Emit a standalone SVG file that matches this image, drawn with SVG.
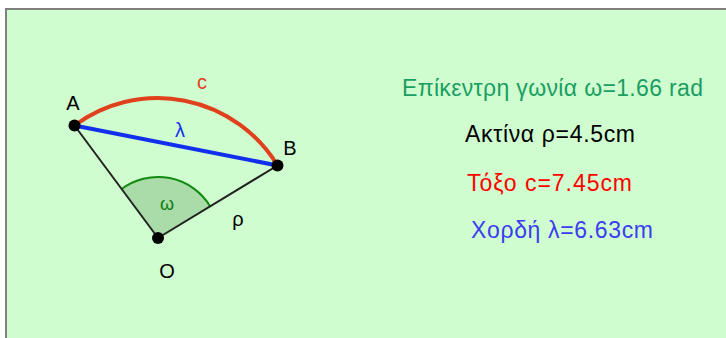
<svg xmlns="http://www.w3.org/2000/svg" width="726" height="338" viewBox="0 0 726 338">
<style>
text{font-family:"Liberation Sans",Arial,sans-serif}
.lbl{font-size:20px;text-anchor:middle;fill:#000}
.info{font-size:23px}
.pt{fill:#000}
</style>
<rect x="0" y="0" width="726" height="338" fill="#ffffff"/>
<rect x="5" y="8" width="721" height="330" fill="#808080"/>
<rect x="7" y="10" width="719" height="328" fill="#cffdcf"/>
<g id="connectors">
<path id="sector" d="M158 238 L121.6 189 A61 61 0 0 1 210.2 206.4 Z" fill="#a9dca9" stroke="none"/>
<path d="M121.6 189 A61 61 0 0 1 210.2 206.4" fill="none" stroke="#108a10" stroke-width="2"/>
<line x1="158" y1="238" x2="74.5" y2="125.5" stroke="#222" stroke-width="2"/>
<line x1="158" y1="238" x2="277.5" y2="165.5" stroke="#222" stroke-width="2"/>
<path d="M74.5 125.5 A140 140 0 0 1 277.5 165.5" fill="none" stroke="#e0401c" stroke-width="4"/>
<line x1="74.5" y1="125.5" x2="277.5" y2="165.5" stroke="#1030ee" stroke-width="4"/>
</g>
<g id="A"><circle class="pt" cx="74.5" cy="125.5" r="6"/><text class="lbl" x="73" y="110">A</text></g>
<g id="B"><circle class="pt" cx="277.5" cy="165.5" r="6"/><text class="lbl" x="290" y="155">B</text></g>
<g id="O"><circle class="pt" cx="158" cy="238" r="6"/><text class="lbl" x="167" y="278">O</text></g>
<g id="labels">
<text class="lbl" x="202" y="89" style="fill:#e0401c">c</text>
<text class="lbl" x="180" y="137" style="fill:#1030ee">λ</text>
<text class="lbl" x="167" y="210" style="fill:#107a10;font-size:18px">ω</text>
<text class="lbl" x="238" y="226">ρ</text>
</g>
<g id="info">
<text class="info" x="402" y="96" textLength="301" lengthAdjust="spacing" fill="#1a9e62">Επίκεντρη γωνία ω=1.66 rad</text>
<text class="info" x="465" y="142" textLength="170" lengthAdjust="spacing" fill="#000">Ακτίνα ρ=4.5cm</text>
<text class="info" x="467" y="191" textLength="165" lengthAdjust="spacing" fill="#ff0000">Τόξο c=7.45cm</text>
<text class="info" x="471" y="238" textLength="182" lengthAdjust="spacing" fill="#3c3cf4">Χορδή λ=6.63cm</text>
</g>
</svg>
